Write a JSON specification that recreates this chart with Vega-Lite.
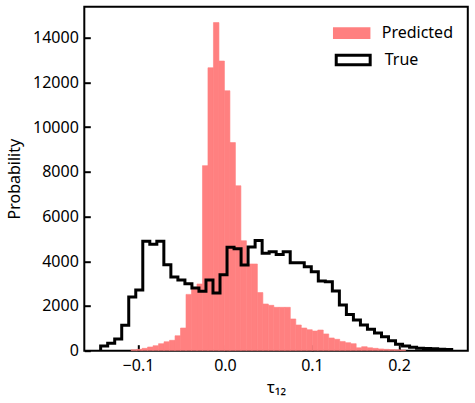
{
  "$schema": "https://vega.github.io/schema/vega-lite/v6.json",
  "autosize": "none",
  "width": 383.5,
  "height": 344,
  "padding": {"left": 84.3, "top": 6.7, "right": 7.2, "bottom": 52.3},
  "config": {
    "font": "Noto Sans",
    "view": {"stroke": "black", "strokeWidth": 2},
    "axis": {
      "domain": false, "grid": false,
      "tickSize": -6, "tickWidth": 2, "tickColor": "black",
      "labelFontSize": 16, "labelColor": "black",
      "titleFontSize": 16, "titleColor": "black", "titleFontWeight": "normal"
    }
  },
  "datasets": {
    "predicted": [
      {"x0": -0.1079, "x1": -0.10159, "count": 40},
      {"x0": -0.10159, "x1": -0.09528, "count": 60},
      {"x0": -0.09528, "x1": -0.08897, "count": 105},
      {"x0": -0.08897, "x1": -0.08266, "count": 165},
      {"x0": -0.08266, "x1": -0.07635, "count": 225},
      {"x0": -0.07635, "x1": -0.07004, "count": 315},
      {"x0": -0.07004, "x1": -0.06373, "count": 400},
      {"x0": -0.06373, "x1": -0.05742, "count": 465},
      {"x0": -0.05742, "x1": -0.05111, "count": 670},
      {"x0": -0.05111, "x1": -0.0448, "count": 1015},
      {"x0": -0.0448, "x1": -0.03849, "count": 2520},
      {"x0": -0.03849, "x1": -0.03218, "count": 2750},
      {"x0": -0.03218, "x1": -0.02587, "count": 2985},
      {"x0": -0.02587, "x1": -0.01956, "count": 8280},
      {"x0": -0.01956, "x1": -0.01325, "count": 12660},
      {"x0": -0.01325, "x1": -0.00694, "count": 14680},
      {"x0": -0.00694, "x1": -0.00063, "count": 12960},
      {"x0": -0.00063, "x1": 0.00568, "count": 11630},
      {"x0": 0.00568, "x1": 0.01199, "count": 9310},
      {"x0": 0.01199, "x1": 0.0183, "count": 7380},
      {"x0": 0.0183, "x1": 0.02461, "count": 4920},
      {"x0": 0.02461, "x1": 0.03092, "count": 3880},
      {"x0": 0.03092, "x1": 0.03723, "count": 3880},
      {"x0": 0.03723, "x1": 0.04354, "count": 2600},
      {"x0": 0.04354, "x1": 0.04985, "count": 2090},
      {"x0": 0.04985, "x1": 0.05616, "count": 2030},
      {"x0": 0.05616, "x1": 0.06247, "count": 1940},
      {"x0": 0.06247, "x1": 0.06878, "count": 1940},
      {"x0": 0.06878, "x1": 0.07509, "count": 1940},
      {"x0": 0.07509, "x1": 0.0814, "count": 1420},
      {"x0": 0.0814, "x1": 0.08771, "count": 1150},
      {"x0": 0.08771, "x1": 0.09402, "count": 1015},
      {"x0": 0.09402, "x1": 0.10033, "count": 940},
      {"x0": 0.10033, "x1": 0.10664, "count": 880},
      {"x0": 0.10664, "x1": 0.11295, "count": 925},
      {"x0": 0.11295, "x1": 0.11926, "count": 750},
      {"x0": 0.11926, "x1": 0.12557, "count": 570},
      {"x0": 0.12557, "x1": 0.13188, "count": 510},
      {"x0": 0.13188, "x1": 0.13819, "count": 415},
      {"x0": 0.13819, "x1": 0.1445, "count": 360},
      {"x0": 0.1445, "x1": 0.15081, "count": 315},
      {"x0": 0.15081, "x1": 0.15712, "count": 130},
      {"x0": 0.15712, "x1": 0.16343, "count": 180},
      {"x0": 0.16343, "x1": 0.16974, "count": 130},
      {"x0": 0.16974, "x1": 0.17605, "count": 105},
      {"x0": 0.17605, "x1": 0.18236, "count": 80},
      {"x0": 0.18236, "x1": 0.18867, "count": 60},
      {"x0": 0.18867, "x1": 0.19498, "count": 50},
      {"x0": 0.19498, "x1": 0.20129, "count": 40},
      {"x0": 0.20129, "x1": 0.2076, "count": 30}
    ],
    "truth": [
      {"k": 0, "e": -0.1429, "h": 0},
      {"k": 1, "e": -0.1429, "h": 210},
      {"k": 2, "e": -0.13483, "h": 330},
      {"k": 3, "e": -0.12676, "h": 520},
      {"k": 4, "e": -0.11869, "h": 1135},
      {"k": 5, "e": -0.11062, "h": 2400},
      {"k": 6, "e": -0.10255, "h": 2715},
      {"k": 7, "e": -0.09448, "h": 4895},
      {"k": 8, "e": -0.08641, "h": 4760},
      {"k": 9, "e": -0.07834, "h": 4895},
      {"k": 10, "e": -0.07027, "h": 3850},
      {"k": 11, "e": -0.0622, "h": 3300},
      {"k": 12, "e": -0.05413, "h": 3160},
      {"k": 13, "e": -0.04606, "h": 3000},
      {"k": 14, "e": -0.03799, "h": 2810},
      {"k": 15, "e": -0.02992, "h": 2655},
      {"k": 16, "e": -0.02185, "h": 3160},
      {"k": 17, "e": -0.01378, "h": 2585},
      {"k": 18, "e": -0.00571, "h": 3400},
      {"k": 19, "e": 0.00236, "h": 4625},
      {"k": 20, "e": 0.01043, "h": 4560},
      {"k": 21, "e": 0.0185, "h": 3835},
      {"k": 22, "e": 0.02657, "h": 4640},
      {"k": 23, "e": 0.03464, "h": 4930},
      {"k": 24, "e": 0.04271, "h": 4360},
      {"k": 25, "e": 0.05078, "h": 4430},
      {"k": 26, "e": 0.05885, "h": 4300},
      {"k": 27, "e": 0.06692, "h": 4430},
      {"k": 28, "e": 0.07499, "h": 3940},
      {"k": 29, "e": 0.08306, "h": 3940},
      {"k": 30, "e": 0.09113, "h": 3760},
      {"k": 31, "e": 0.0992, "h": 3535},
      {"k": 32, "e": 0.10727, "h": 3120},
      {"k": 33, "e": 0.11534, "h": 3090},
      {"k": 34, "e": 0.12341, "h": 2670},
      {"k": 35, "e": 0.13148, "h": 2050},
      {"k": 36, "e": 0.13955, "h": 1620},
      {"k": 37, "e": 0.14762, "h": 1370},
      {"k": 38, "e": 0.15569, "h": 1150},
      {"k": 39, "e": 0.16376, "h": 960},
      {"k": 40, "e": 0.17183, "h": 790},
      {"k": 41, "e": 0.1799, "h": 620},
      {"k": 42, "e": 0.18797, "h": 450},
      {"k": 43, "e": 0.19604, "h": 285},
      {"k": 44, "e": 0.20411, "h": 210},
      {"k": 45, "e": 0.21218, "h": 150},
      {"k": 46, "e": 0.22025, "h": 110},
      {"k": 47, "e": 0.22832, "h": 100},
      {"k": 48, "e": 0.23639, "h": 90},
      {"k": 49, "e": 0.24446, "h": 60},
      {"k": 50, "e": 0.25253, "h": 50},
      {"k": 51, "e": 0.2606, "h": 0}
    ]
  },
  "layer": [
    {
      "data": {"name": "predicted"},
      "mark": {"type": "rect", "clip": true, "stroke": "#ff8080", "strokeWidth": 0.6},
      "encoding": {
        "x": {
          "field": "x0", "type": "quantitative",
          "scale": {"domain": [-0.1617, 0.2791], "nice": false, "zero": false},
          "axis": {"values": [-0.1, 0, 0.1, 0.2], "format": ".1f", "labelPadding": 13, "title": "τ₁₂", "titlePadding": 6}
        },
        "x2": {"field": "x1"},
        "y": {
          "field": "count", "type": "quantitative",
          "scale": {"domain": [0, 15391], "nice": false},
          "axis": {"values": [0, 2000, 4000, 6000, 8000, 10000, 12000, 14000], "format": "d", "labelPadding": 12, "title": "Probability", "titlePadding": 10}
        },
        "y2": {"datum": 0},
        "fill": {
          "datum": "Predicted", "type": "nominal",
          "scale": {"domain": ["Predicted"], "range": ["#ff8080"]},
          "legend": {
            "orient": "none", "legendX": 255.4, "legendY": 14.5, "title": null,
            "symbolType": "M-1.6,-0.5H1.6V0.5H-1.6Z", "symbolSize": 548, "symbolStrokeWidth": 0,
            "labelFontSize": 16, "labelColor": "black", "labelOffset": 18
          }
        }
      }
    },
    {
      "data": {"name": "truth"},
      "mark": {"type": "line", "interpolate": "step-after", "strokeWidth": 3, "clip": true},
      "encoding": {
        "x": {"field": "e", "type": "quantitative"},
        "y": {"field": "h", "type": "quantitative"},
        "order": {"field": "k", "type": "quantitative"},
        "stroke": {
          "datum": "True", "type": "nominal",
          "scale": {"domain": ["True"], "range": ["#000000"]},
          "legend": {
            "orient": "none", "legendX": 255.4, "legendY": 39.8, "title": null,
            "symbolType": "M-1.45,-0.4H1.45V0.4H-1.45Z", "symbolSize": 548, "symbolStrokeWidth": 3,
            "symbolFillColor": "transparent",
            "labelFontSize": 16, "labelColor": "black", "labelOffset": 18,
            "encode": {"symbols": {"update": {"fill": {"value": "transparent"}}}}
          }
        }
      }
    }
  ]
}
